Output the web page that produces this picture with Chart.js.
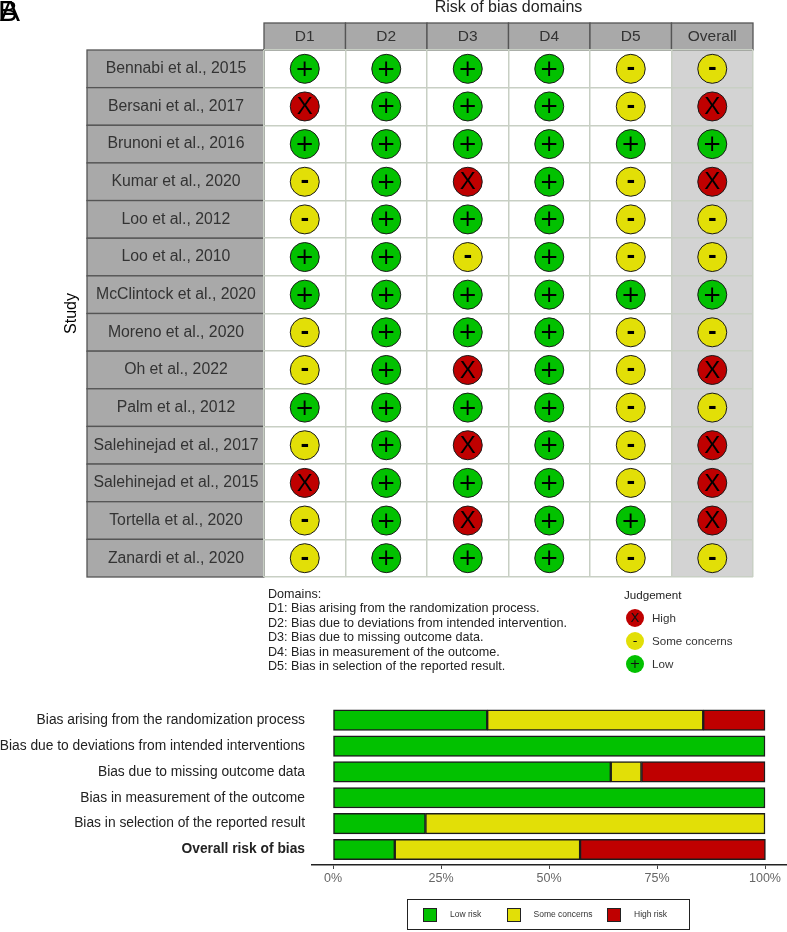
<!DOCTYPE html>
<html><head><meta charset="utf-8">
<style>
html,body{margin:0;padding:0;background:#fff}
body{position:relative;width:787px;height:932px;overflow:hidden;font-family:"Liberation Sans",Arial,sans-serif}
canvas{position:absolute;left:0}
.t{position:absolute;white-space:nowrap;line-height:1}
.dot{position:absolute;width:18px;height:18px;border-radius:50%;text-align:center;line-height:18px;font-size:13px;color:#111;font-family:"DejaVu Sans"}
.sw{position:absolute;width:12px;height:12px;border:1.5px solid #222;top:908px}
</style>
<script src="https://cdn.jsdelivr.net/npm/chart.js@4"></script>
</head><body>
<canvas id="tl" width="787" height="690" style="top:0"></canvas>
<canvas id="bars" width="787" height="242" style="top:690px"></canvas>
<div class="t" style="left:0;top:-4px;font-size:30px;color:#000">A</div>
<div class="t" style="left:-2px;top:-4px;font-size:30px;color:#000">B</div>
<div id="domains"></div>
<div id="judgement"></div>
<div style="position:absolute;left:407px;top:899px;width:281px;height:29px;border:1.5px solid #222"></div>
<div id="barlegend"></div>
<script>
const studies = ["Bennabi et al., 2015","Bersani et al., 2017","Brunoni et al., 2016","Kumar et al., 2020","Loo et al., 2012","Loo et al., 2010","McClintock et al., 2020","Moreno et al., 2020","Oh et al., 2022","Palm et al., 2012","Salehinejad et al., 2017","Salehinejad et al., 2015","Tortella et al., 2020","Zanardi et al., 2020"];
const domains = ["D1","D2","D3","D4","D5","Overall"];
const d1 = ["+","X","+","-","-","+","+","-","-","+","-","X","-","-"];
const d2 = ["+","+","+","+","+","+","+","+","+","+","+","+","+","+"];
const d3 = ["+","+","+","X","+","-","+","+","X","+","X","+","X","+"];
const d4 = ["+","+","+","+","+","+","+","+","+","+","+","+","+","+"];
const d5 = ["-","-","+","-","-","-","+","-","-","-","-","-","+","-"];
const overall = ["-","X","+","X","-","-","+","-","X","-","X","X","X","-"];
const domainNotes = ["Domains:","D1: Bias arising from the randomization process.","D2: Bias due to deviations from intended intervention.","D3: Bias due to missing outcome data.","D4: Bias in measurement of the outcome.","D5: Bias in selection of the reported result."];
const judgementNames = ["High","Some concerns","Low"];
const judgementSymbols = ["X","-","+"];
const barLabels = ["Bias arising from the randomization process","Bias due to deviations from intended interventions","Bias due to missing outcome data","Bias in measurement of the outcome","Bias in selection of the reported result","Overall risk of bias"];
const lowRisk = [35.7,100,64.3,100,21.4,14.3];
const someConcerns = [50,0,7.1,0,78.6,42.9];
const highRisk = [14.3,0,28.6,0,0,42.9];
const pctTicks = [0,25,50,75,100];

const GREEN="#02C100",YELLOW="#E2DF07",RED="#BF0000",FONT='"Liberation Sans"';
const colorOf = {"+":GREEN,"-":YELLOW,"X":RED};
const columns = [d1,d2,d3,d4,d5,overall];

const panels = {
  id:"panels",
  beforeDraw(c){
    const {ctx,chartArea:a,scales:{x,y}}=c;
    const w=x.getPixelForValue(1)-x.getPixelForValue(0), h=y.getPixelForValue(1)-y.getPixelForValue(0);
    ctx.save();
    ctx.fillStyle="#D3D3D3"; ctx.fillRect(a.right-w,a.top,w,a.bottom-a.top);
    ctx.fillStyle="#A9A9A9"; ctx.strokeStyle="#555"; ctx.lineWidth=1.3;
    domains.forEach((_,i)=>{const l=a.left+i*w; ctx.fillRect(l,23,w,a.top-23); ctx.strokeRect(l,23,w,a.top-23);});
    studies.forEach((_,i)=>{const t=a.top+i*h; ctx.fillRect(87,t,a.left-87,h); ctx.strokeRect(87,t,a.left-87,h);});
    ctx.restore();
  },
  afterDatasetsDraw(c){
    const {ctx}=c;
    ctx.save(); ctx.textAlign="center"; ctx.textBaseline="middle"; ctx.fillStyle="#000";
    c.data.datasets.forEach((ds,di)=>{
      c.getDatasetMeta(di).data.forEach((p,i)=>{
        const s=ds.data[i].j;
        ctx.font = s==="X" ? '24px '+FONT : s==="-" ? 'bold 21px "DejaVu Sans"' : '23px "DejaVu Sans"';
        ctx.fillText(s,p.x,p.y+1);
      });
    });
    ctx.restore();
  }
};

new Chart(document.getElementById("tl"),{
  type:"scatter",
  data:{datasets:columns.map((col,ci)=>({
    label:domains[ci],
    data:col.map((j,si)=>({x:domains[ci],y:studies[si],j})),
    pointRadius:14.5,pointHoverRadius:14.5,pointBorderWidth:1,pointBorderColor:"#1a1a1a",
    pointBackgroundColor:ctx=>colorOf[ctx.raw.j]
  }))},
  options:{
    responsive:false,animation:false,events:[],
    parsing:{xAxisKey:"x",yAxisKey:"y"},
    layout:{autoPadding:false,padding:{left:64,top:0,right:34,bottom:113}},
    plugins:{legend:{display:false},tooltip:{enabled:false}},
    scales:{
      x:{type:"category",labels:domains,position:"top",offset:true,
        afterFit:s=>{s.height=50},
        border:{display:false},
        grid:{offset:true,color:"#C8CFC4",lineWidth:1.5,drawTicks:false},
        ticks:{color:"#333",font:{family:FONT,size:15.5},padding:3.5,maxRotation:0},
        title:{display:true,text:"Risk of bias domains",color:"#222",font:{family:FONT,size:16,lineHeight:1},padding:0}},
      y:{type:"category",labels:studies,offset:true,
        afterFit:s=>{s.width=200},
        border:{display:false},
        grid:{offset:true,color:"#C8CFC4",lineWidth:1.5,drawTicks:false},
        ticks:{color:"#333",font:{family:FONT,size:15.8,lineHeight:1.1},padding:5.5,crossAlign:"center",autoSkip:false,z:1},
        title:{display:true,text:"Study",color:"#000",font:{family:FONT,size:16,lineHeight:1},padding:0}}
    }
  },
  plugins:[panels]
});

function seg(label,data,color){return {label,data:data.map((v,i)=>({x:v,y:i})),backgroundColor:color,borderColor:"#1c1c1c",borderWidth:1.5,borderSkipped:false,barThickness:20.5};}
new Chart(document.getElementById("bars"),{
  type:"bar",
  data:{datasets:[seg("Low risk",lowRisk,GREEN),seg("Some concerns",someConcerns,YELLOW),seg("High risk",highRisk,RED)]},
  options:{
    indexAxis:"y",responsive:false,animation:false,events:[],
    layout:{autoPadding:false,padding:{left:0,top:14,right:0.4,bottom:0}},
    plugins:{legend:{display:false},tooltip:{enabled:false}},
    scales:{
      x:{type:"linear",stacked:true,min:-5,max:105,
        afterBuildTicks:s=>{s.ticks=pctTicks.map(value=>({value}))},
        afterFit:s=>{s.height=67},
        border:{color:"#222",width:1.5},
        grid:{drawOnChartArea:false,color:"#444",tickLength:4},
        ticks:{color:"#666",font:{family:FONT,size:12.5},padding:2,maxRotation:0,callback:v=>v+"%"}},
      y:{type:"linear",stacked:true,reverse:true,offset:false,min:-0.6,max:5.6,
        afterBuildTicks:s=>{s.ticks=barLabels.map((_,value)=>({value}))},
        afterFit:s=>{s.width=311.4},
        border:{display:false},
        grid:{display:false,offset:false,drawTicks:false},
        ticks:{color:"#222",padding:6.4,autoSkip:false,callback:v=>barLabels[v],
          font:c=>({family:FONT,size:13.8,weight:c.index===5?"bold":"normal"})}}
    }
  }
});

document.getElementById("domains").innerHTML=domainNotes.map((s,i)=>`<div class="t" style="left:268px;top:${588+i*14.4}px;font-size:12.6px;color:#222">${s}</div>`).join("");
document.getElementById("judgement").innerHTML=`<div class="t" style="left:624px;top:589px;font-size:11.6px;color:#222">Judgement</div>`+
 judgementNames.map((n,i)=>`<div class="dot" style="left:626px;top:${609+i*23}px;background:${colorOf[judgementSymbols[i]]}">${judgementSymbols[i]}</div><div class="t" style="left:652px;top:${612+i*23}px;font-size:11.6px;color:#333">${n}</div>`).join("");
const lx=[423,507,607],tx=[450,533.5,634];
document.getElementById("barlegend").innerHTML=[["Low risk",GREEN],["Some concerns",YELLOW],["High risk",RED]].map(([n,c],i)=>`<div class="sw" style="left:${lx[i]}px;background:${c}"></div><div class="t" style="left:${tx[i]}px;top:910px;font-size:8.5px;color:#333">${n}</div>`).join("");
</script>
</body></html>
